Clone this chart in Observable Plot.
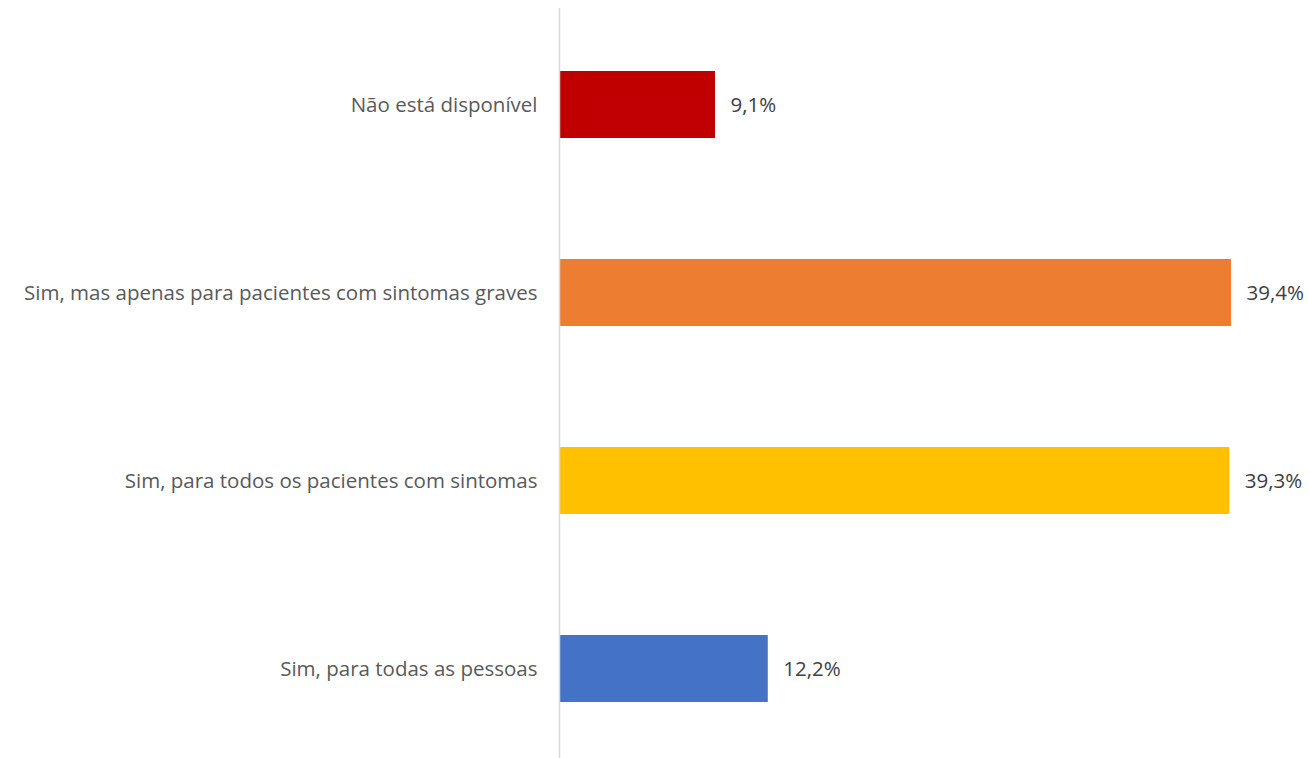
<!DOCTYPE html>
<html>
<head>
<meta charset="utf-8">
<script src="https://cdn.jsdelivr.net/npm/d3@7"></script>
<script src="https://cdn.jsdelivr.net/npm/@observablehq/plot@0.6"></script>
<style>
  html, body { margin: 0; padding: 0; background: #fff; }
  #chart svg { display: block; }
</style>
</head>
<body>
<div id="chart"></div>
<script>
const categories = [
  "Não está disponível",
  "Sim, mas apenas para pacientes com sintomas graves",
  "Sim, para todos os pacientes com sintomas",
  "Sim, para todas as pessoas"
];
const values = [9.1, 39.4, 39.3, 12.2];
const colors = ["#C00000", "#ED7D31", "#FFC000", "#4472C4"];

const data = categories.map((c, i) => ({category: c, value: values[i], color: colors[i]}));
const fmt = v => v.toFixed(1).replace(".", ",") + "%";
const font = "'Open Sans', sans-serif";

const chart = Plot.plot({
  width: 1309,
  height: 758,
  marginLeft: 560,
  marginRight: 78,
  marginTop: 8,
  marginBottom: 0,
  style: {fontFamily: font, background: "#fff"},
  x: {domain: [0, 39.4], axis: null},
  y: {domain: categories, range: [8, 764], paddingInner: 0.6455, paddingOuter: 0.3228, label: null},
  marks: [
    Plot.barX(data, {x: "value", y: "category", fill: "color"}),
    Plot.ruleX([0], {stroke: "#D9D9D9", strokeWidth: 1.5, dx: -1}),
    Plot.axisY({tickSize: 0, tickPadding: 23, fontSize: 20.5, fill: "#595959", label: null}),
    Plot.text(data, {x: "value", y: "category", text: d => fmt(d.value), dx: 15, textAnchor: "start", fontSize: 20.5, fill: "#404040"})
  ]
});
document.getElementById("chart").appendChild(chart);
</script>
</body>
</html>
